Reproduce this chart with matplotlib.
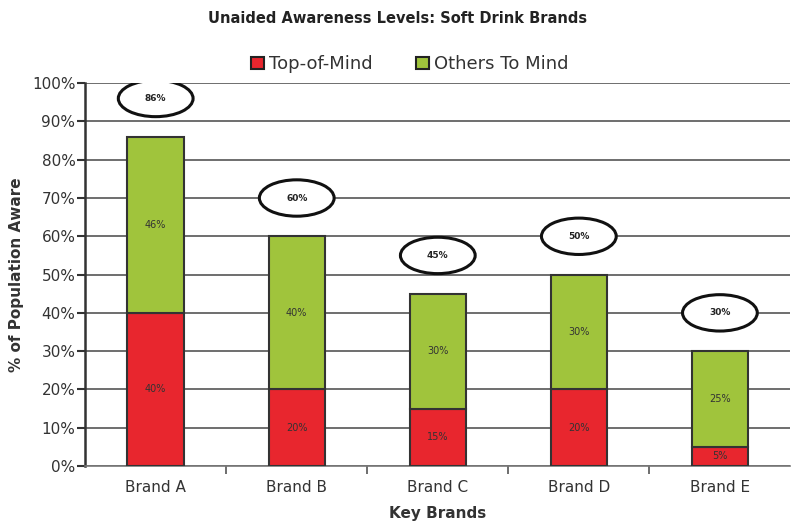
import matplotlib.pyplot as plt
import numpy as np
from matplotlib.patches import Ellipse, Patch

brands = ['Brand A', 'Brand B', 'Brand C', 'Brand D', 'Brand E']
top_of_mind = [40, 20, 15, 20, 5]
others_to_mind = [46, 40, 30, 30, 25]
totals = [86, 60, 45, 50, 30]

red = '#e8262e'
green = '#a0c43c'

fig = plt.figure(figsize=(7.96, 5.23), dpi=100)
ax = fig.add_axes([0.107, 0.109, 0.886, 0.732])

ind = np.arange(len(brands))
ax.bar(ind, top_of_mind, width=0.4, color=red, edgecolor='#333333', linewidth=1.5, zorder=3)
ax.bar(ind, others_to_mind, width=0.4, bottom=top_of_mind, color=green,
       edgecolor='#333333', linewidth=1.5, zorder=3)

for i in ind:
    ax.text(i, top_of_mind[i] / 2, '%d%%' % top_of_mind[i], ha='center', va='center',
            fontsize=7, color='#333333', zorder=4)
    ax.text(i, top_of_mind[i] + others_to_mind[i] / 2, '%d%%' % others_to_mind[i],
            ha='center', va='center', fontsize=7, color='#333333', zorder=4)
    # callout ellipse with the total above each bar
    e = Ellipse((i, totals[i] + 10), 0.53, 9.5, facecolor='white', edgecolor='#111111',
                linewidth=2.2, zorder=5)
    ax.add_patch(e)
    ax.text(i, totals[i] + 10, '%d%%' % totals[i], ha='center', va='center',
            fontsize=6.5, fontweight='bold', color='#222222', zorder=6)

ax.set_xlim(-0.5, len(brands) - 0.5)
ax.set_ylim(0, 100)
ax.set_yticks(np.arange(0, 101, 10))
ax.set_yticklabels(['%d%%' % v for v in range(0, 101, 10)], fontsize=11, color='#333333')
ax.yaxis.grid(True, color='#555555', linewidth=1.2, zorder=0)
ax.set_axisbelow(True)

ax.set_xticks(ind)
ax.set_xticklabels(brands, fontsize=11, color='#333333')
ax.tick_params(axis='x', which='major', length=0, pad=10)
ax.set_xticks(np.arange(0.5, len(brands) - 0.5, 1), minor=True)
ax.tick_params(axis='x', which='minor', length=6, width=1.2, color='#555555')
ax.tick_params(axis='y', length=6, width=1.5, color='#333333', pad=1)

for s in ['top', 'right']:
    ax.spines[s].set_visible(False)
ax.spines['left'].set_linewidth(1.8)
ax.spines['left'].set_color('#333333')
ax.spines['bottom'].set_linewidth(1.2)
ax.spines['bottom'].set_color('#777777')

ax.set_ylabel('% of Population Aware', fontsize=11, fontweight='bold', color='#333333', labelpad=6)
ax.set_xlabel('Key Brands', fontsize=11, fontweight='bold', color='#333333', labelpad=8)

fig.text(0.5, 0.965, 'Unaided Awareness Levels: Soft Drink Brands', ha='center', va='center',
         fontsize=10.5, fontweight='bold', color='#222222')

handles = [Patch(facecolor=red, edgecolor='#222222', linewidth=1.5, label='Top-of-Mind'),
           Patch(facecolor=green, edgecolor='#222222', linewidth=1.5, label='Others To Mind')]
fig.legend(handles=handles, loc='center', bbox_to_anchor=(0.515, 0.877), ncol=2, frameon=False,
           fontsize=13, handlelength=0.7, handleheight=0.7, handletextpad=0.3, columnspacing=2.4,
           labelcolor='#333333')

fig.savefig('out.png', dpi=100)
